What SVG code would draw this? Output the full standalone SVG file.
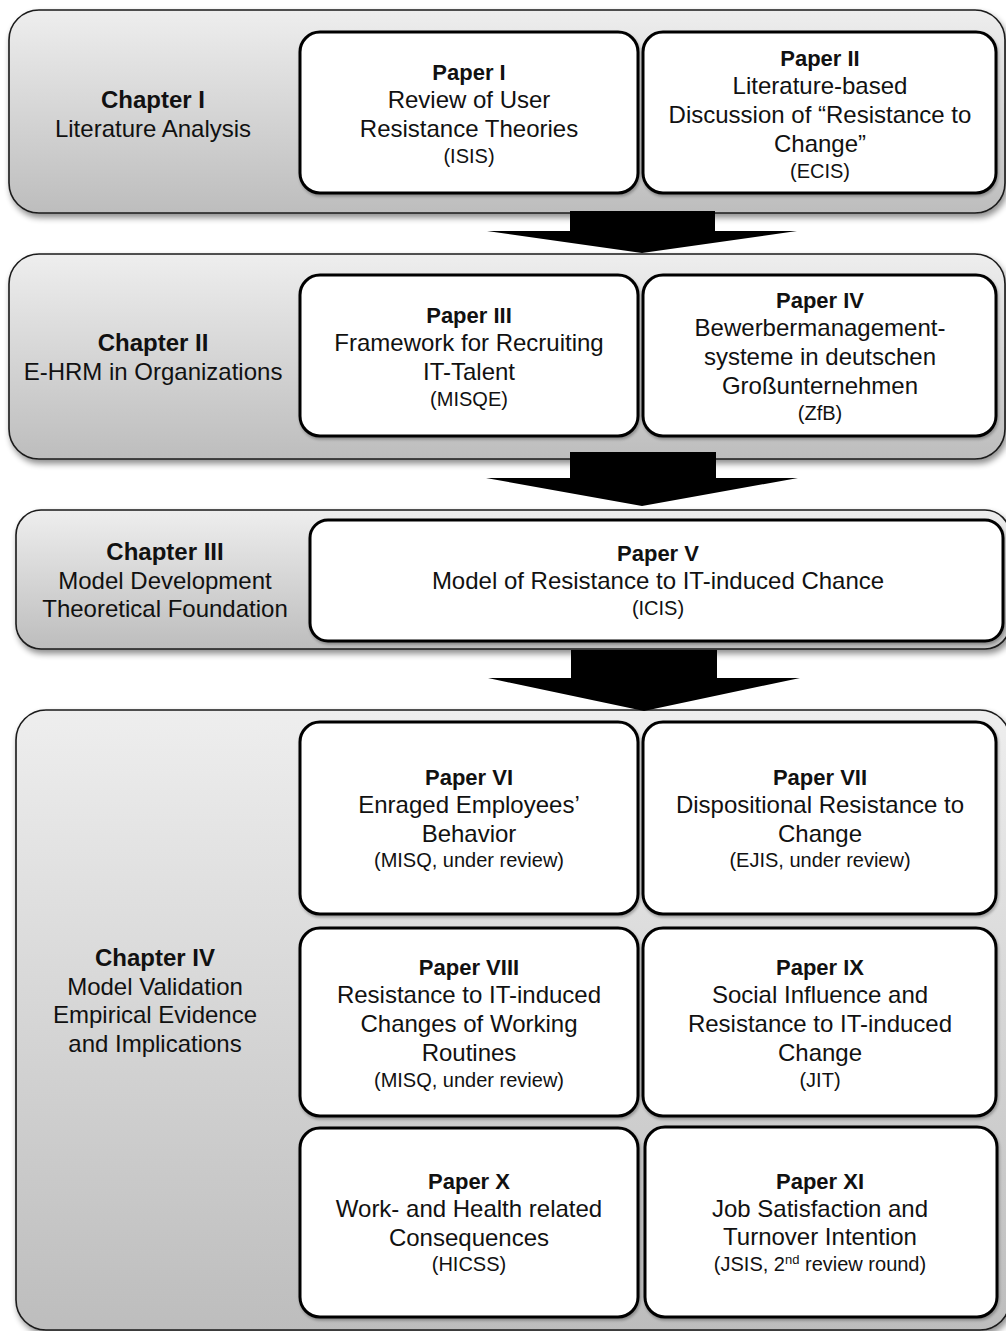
<svg xmlns="http://www.w3.org/2000/svg" width="1006" height="1331" viewBox="0 0 1006 1331">
  <defs>
    <linearGradient id="chapterFill" x1="0" y1="0" x2="0" y2="1">
      <stop offset="0" stop-color="#eeeeee"/>
      <stop offset="1" stop-color="#bdbdbd"/>
    </linearGradient>
    <filter id="chapterShadow" x="-5%" y="-10%" width="115%" height="130%">
      <feGaussianBlur in="SourceAlpha" stdDeviation="3"/>
      <feOffset dx="2" dy="4" result="blur"/>
      <feComponentTransfer><feFuncA type="linear" slope="0.45"/></feComponentTransfer>
      <feMerge><feMergeNode/><feMergeNode in="SourceGraphic"/></feMerge>
    </filter>
    <filter id="paperShadow" x="-5%" y="-10%" width="115%" height="130%">
      <feGaussianBlur in="SourceAlpha" stdDeviation="1.5"/>
      <feOffset dx="1" dy="2" result="blur"/>
      <feComponentTransfer><feFuncA type="linear" slope="0.3"/></feComponentTransfer>
      <feMerge><feMergeNode/><feMergeNode in="SourceGraphic"/></feMerge>
    </filter>
  </defs>
  <style>
    .chapter { fill: url(#chapterFill); stroke: #1a1a1a; stroke-width: 1.6; filter: url(#chapterShadow); }
    .paper { fill: #ffffff; stroke: #000000; stroke-width: 3; filter: url(#paperShadow); }
    text { font-family: "Liberation Sans", Arial, sans-serif; fill: #111111; text-anchor: middle; }
    .head { font-size: 24px; font-weight: bold; }
    .ptitle { font-size: 22px; font-weight: bold; }
    .body { font-size: 24px; }
    .venue { font-size: 20px; }
    .arrow { fill: #000000; }
  </style>

  <!-- Chapter I -->
  <g id="chapter1">
    <rect class="chapter" x="9" y="10" width="996" height="203" rx="30"/>
    <text class="head" x="153" y="108">Chapter I</text>
    <text class="body" x="153" y="137">Literature Analysis</text>
  </g>
  <g id="paper1">
    <rect class="paper" x="300" y="32" width="338" height="161" rx="20"/>
    <text class="ptitle" x="469" y="80">Paper I</text>
    <text class="body" x="469" y="108">Review of User</text>
    <text class="body" x="469" y="137">Resistance Theories</text>
    <text class="venue" x="469" y="163">(ISIS)</text>
  </g>
  <g id="paper2">
    <rect class="paper" x="643" y="32" width="353" height="161" rx="20"/>
    <text class="ptitle" x="820" y="66">Paper II</text>
    <text class="body" x="820" y="94">Literature-based</text>
    <text class="body" x="820" y="123">Discussion of “Resistance to</text>
    <text class="body" x="820" y="152">Change”</text>
    <text class="venue" x="820" y="178">(ECIS)</text>
  </g>

  <!-- Chapter II -->
  <g id="chapter2">
    <rect class="chapter" x="9" y="254" width="996" height="205" rx="30"/>
    <text class="head" x="153" y="351">Chapter II</text>
    <text class="body" x="153" y="380">E-HRM in Organizations</text>
  </g>
  <g id="paper3">
    <rect class="paper" x="300" y="275" width="338" height="161" rx="20"/>
    <text class="ptitle" x="469" y="323">Paper III</text>
    <text class="body" x="469" y="351">Framework for Recruiting</text>
    <text class="body" x="469" y="380">IT-Talent</text>
    <text class="venue" x="469" y="406">(MISQE)</text>
  </g>
  <g id="paper4">
    <rect class="paper" x="643" y="275" width="353" height="161" rx="20"/>
    <text class="ptitle" x="820" y="308">Paper IV</text>
    <text class="body" x="820" y="336">Bewerbermanagement-</text>
    <text class="body" x="820" y="365">systeme in deutschen</text>
    <text class="body" x="820" y="394">Großunternehmen</text>
    <text class="venue" x="820" y="420">(ZfB)</text>
  </g>

  <!-- Chapter III -->
  <g id="chapter3">
    <rect class="chapter" x="16" y="510" width="994" height="139" rx="25"/>
    <text class="head" x="165" y="560">Chapter III</text>
    <text class="body" x="165" y="589">Model Development</text>
    <text class="body" x="165" y="617">Theoretical Foundation</text>
  </g>
  <g id="paper5">
    <rect class="paper" x="310" y="520" width="693" height="121" rx="18"/>
    <text class="ptitle" x="658" y="561">Paper V</text>
    <text class="body" x="658" y="589">Model of Resistance to IT-induced Chance</text>
    <text class="venue" x="658" y="615">(ICIS)</text>
  </g>

  <!-- Chapter IV -->
  <g id="chapter4">
    <rect class="chapter" x="16" y="710" width="994" height="620" rx="30"/>
    <text class="head" x="155" y="966">Chapter IV</text>
    <text class="body" x="155" y="995">Model Validation</text>
    <text class="body" x="155" y="1023">Empirical Evidence</text>
    <text class="body" x="155" y="1052">and Implications</text>
  </g>
  <g id="paper6">
    <rect class="paper" x="300" y="722" width="338" height="192" rx="20"/>
    <text class="ptitle" x="469" y="785">Paper VI</text>
    <text class="body" x="469" y="813">Enraged Employees’</text>
    <text class="body" x="469" y="842">Behavior</text>
    <text class="venue" x="469" y="867">(MISQ, under review)</text>
  </g>
  <g id="paper7">
    <rect class="paper" x="643" y="722" width="353" height="192" rx="20"/>
    <text class="ptitle" x="820" y="785">Paper VII</text>
    <text class="body" x="820" y="813">Dispositional Resistance to</text>
    <text class="body" x="820" y="842">Change</text>
    <text class="venue" x="820" y="867">(EJIS, under review)</text>
  </g>
  <g id="paper8">
    <rect class="paper" x="300" y="928" width="338" height="188" rx="20"/>
    <text class="ptitle" x="469" y="975">Paper VIII</text>
    <text class="body" x="469" y="1003">Resistance to IT-induced</text>
    <text class="body" x="469" y="1032">Changes of Working</text>
    <text class="body" x="469" y="1061">Routines</text>
    <text class="venue" x="469" y="1087">(MISQ, under review)</text>
  </g>
  <g id="paper9">
    <rect class="paper" x="643" y="928" width="353" height="188" rx="20"/>
    <text class="ptitle" x="820" y="975">Paper IX</text>
    <text class="body" x="820" y="1003">Social Influence and</text>
    <text class="body" x="820" y="1032">Resistance to IT-induced</text>
    <text class="body" x="820" y="1061">Change</text>
    <text class="venue" x="820" y="1087">(JIT)</text>
  </g>
  <g id="paper10">
    <rect class="paper" x="300" y="1128" width="338" height="189" rx="20"/>
    <text class="ptitle" x="469" y="1189">Paper X</text>
    <text class="body" x="469" y="1217">Work- and Health related</text>
    <text class="body" x="469" y="1246">Consequences</text>
    <text class="venue" x="469" y="1271">(HICSS)</text>
  </g>
  <g id="paper11">
    <rect class="paper" x="645" y="1127" width="352" height="190" rx="20"/>
    <text class="ptitle" x="820" y="1189">Paper XI</text>
    <text class="body" x="820" y="1217">Job Satisfaction and</text>
    <text class="body" x="820" y="1245">Turnover Intention</text>
    <text class="venue" x="820" y="1271">(JSIS, 2<tspan font-size="13" dy="-7">nd</tspan><tspan dy="7"> review round)</tspan></text>
  </g>

  <!-- Block arrows between chapters -->
  <g id="connectors">
    <path class="arrow" d="M570 211 H715 V231 H797 L642 253 L487 231 H570 Z"/>
    <path class="arrow" d="M570 452 H716 V478 H798 L642 506 L486 478 H570 Z"/>
    <path class="arrow" d="M571 650 H717 V678 H800 L644 711 L488 678 H571 Z"/>
  </g>
</svg>
